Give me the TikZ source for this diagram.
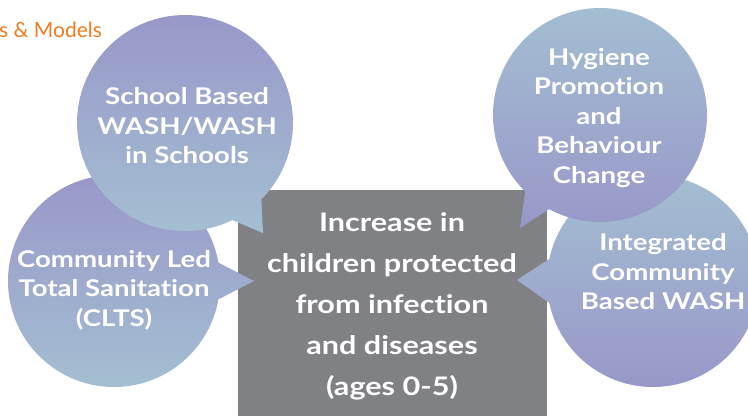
\documentclass[tikz,border=0pt]{standalone}
\usepackage{fontspec}
\setmainfont{Lato}
\newfontfamily\bubblefont{Lato}[FakeStretch=1.2,Ligatures={NoCommon,NoDiscretionary}]
\definecolor{bubblepurple}{RGB}{152,150,200}
\definecolor{bubbleblue}{RGB}{164,192,210}
\definecolor{boxgray}{RGB}{128,129,133}
\definecolor{titleorange}{RGB}{240,122,30}

\begin{document}
\begin{tikzpicture}
    [x=1pt,y=1pt,
     purpletop/.style={top color=bubblepurple,bottom color=bubbleblue},
     bluetop/.style={top color=bubbleblue,bottom color=bubblepurple},
     every node/.style={text=white,align=center,inner sep=0pt,
       font=\bubblefont\fontsize{23}{29.5}\selectfont\bfseries}]
    \useasboundingbox (0,0) rectangle (748,-416);

    \coordinate (cclts) at (114,-281);
    \coordinate (cschool) at (185,-123);
    \coordinate (chyg) at (600,-115);
    \coordinate (cint) at (653,-281);
    \coordinate (tclts) at (254,-281);
    \coordinate (tschool) at (263,-233);
    \coordinate (thyg) at (520,-228);
    \coordinate (tint) at (517,-280);

    \fill[boxgray] (238,-190) rectangle (547,-416);

    \shade[purpletop] (cclts) ++(10:106) arc[start angle=10,end angle=350,radius=106] -- (tclts) -- cycle;
    \shade[purpletop] (cschool) ++(-45:108) arc[start angle=-45,end angle=296,radius=108] -- (tschool) -- cycle;
    \shade[bluetop] (cint) ++(192:106) arc[start angle=192,end angle=528,radius=106] -- (tint) -- cycle;
    \shade[bluetop] (chyg) ++(241.6:107) arc[start angle=241.6,end angle=585.7,radius=107] -- (thyg) -- cycle;

    \node[text=titleorange,font=\fontsize{21}{21}\selectfont,anchor=base west] (title) at (-1,-37) {s \& Models};

    \node (clts) at (114,-290) {Community Led\\Total Sanitation\\(CLTS)};
    \node (school) at (187,-126) {School Based\\WASH/WASH\\in Schools};
    \node (hyg) at (599,-118) {Hygiene\\Promotion\\and\\Behaviour\\Change};
    \node (int) at (663,-272) {Integrated\\Community\\Based WASH};
    \node[font=\bubblefont\fontsize{25.5}{41}\selectfont\bfseries] (outcome) at (392,-306)
        {Increase in\\children protected\\from infection\\and diseases\\(ages 0-5)};
\end{tikzpicture}
\end{document}
